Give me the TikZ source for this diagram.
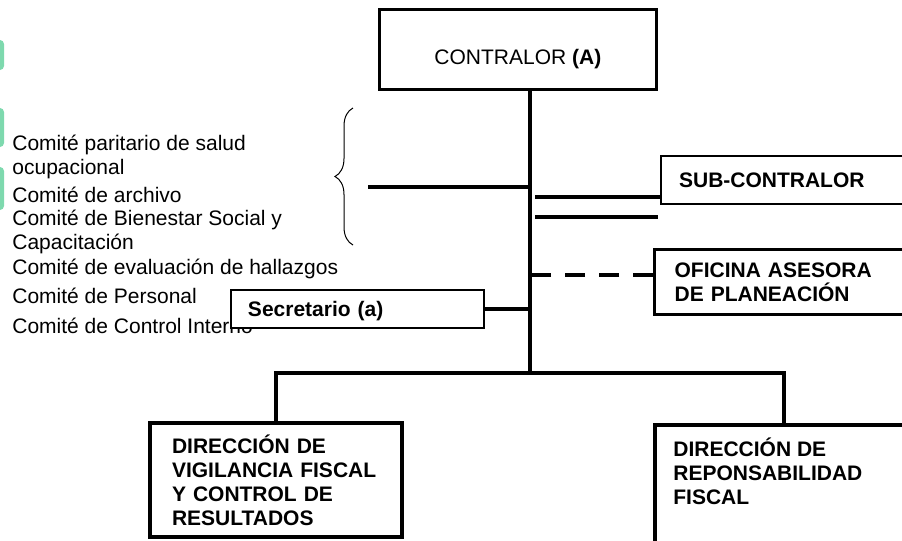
\documentclass[tikz,border=0pt]{standalone}
\usepackage{fontspec}
\setmainfont{Liberation Sans}
\usetikzlibrary{positioning,decorations.pathreplacing}

\definecolor{marca}{RGB}{126,217,174}

\begin{document}
\begin{tikzpicture}[
    x=0.5pt, y=-0.5pt,
    font=\fontsize{10.5}{12}\selectfont,
    orgbox/.style={draw, rectangle, fill=white, line width=1.2pt, anchor=north west, align=left, inner xsep=9pt, font=\fontsize{10.5}{12}\selectfont\bfseries},
    comite/.style={anchor=north west, align=left, inner sep=0pt},
    link/.style={line width=1.9pt},
    dashlink/.style={line width=1.9pt, dash pattern=on 10pt off 7pt},
    llave/.style={line width=0.5pt, decorate, decoration={brace, amplitude=9pt}}
]
\clip (0,0) rectangle (902,541);

% marcas verdes del borde
\fill[marca, rounded corners=2pt] (-6,40) rectangle (4,70);
\fill[marca, rounded corners=2pt] (-6,108) rectangle (4,147);
\fill[marca, rounded corners=2pt] (-6,167) rectangle (4,210);

% comites
\node[comite] (c-salud) at (12,135) {Comité paritario de salud\\ocupacional};
\node[comite] (c-archivo) at (12,187) {Comité de archivo};
\node[comite] (c-bienestar) at (12,210) {Comité de Bienestar Social y\\Capacitación};
\node[comite] (c-hallazgos) at (12,259) {Comité de evaluación de hallazgos};
\node[comite] (c-personal) at (12,288) {Comité de Personal};
\node[comite] (c-control) at (12,318) {Comité de Control Interno};

\coordinate (llave-abajo) at (353,245);
\coordinate (llave-arriba) at (353,108);
\draw[llave] (llave-abajo) -- (llave-arriba);

% cajas
\node[orgbox, line width=1.4pt, align=center, minimum width=138.5pt, minimum height=40pt,
      text height=17pt, text depth=2pt, font=\fontsize{10.5}{12}\selectfont] (contralor) at (378,8) {CONTRALOR \textbf{(A)}};
\node[orgbox, text width=140pt, minimum height=24pt, line width=1.1pt] (subc) at (660,155) {SUB-CONTRALOR};
\node[orgbox, text width=140pt, minimum height=32.5pt, inner xsep=10pt, line width=1.6pt] (oficina) at (653,248) {OFICINA ASESORA\\DE PLANEACIÓN};
\node[orgbox, text width=109.5pt, inner xsep=8.5pt, minimum height=19pt, text depth=0pt, line width=1pt] (secret) at (230,289) {Secretario (a)};
\node[orgbox, text width=104pt, inner xsep=11pt, minimum height=57pt, line width=2pt] (vig) at (148,421) {DIRECCIÓN DE\\VIGILANCIA FISCAL\\Y CONTROL DE\\RESULTADOS};
\node[orgbox, minimum width=160pt, minimum height=65pt, line width=2pt] (resp) at (653,423) {};
\node[below right=7pt and 10pt of resp.north west, align=left, inner sep=0pt, font=\fontsize{10.5}{12}\selectfont\bfseries] (resp-txt) {DIRECCIÓN DE\\REPONSABILIDAD\\FISCAL};

% lineas
\coordinate (trunk) at (530,373);
\coordinate (comites) at (368,187);
\coordinate (subc-in) at (535,197);
\coordinate (linea-a) at (535,217);
\coordinate (linea-b) at (658,217);
\coordinate (asesora) at (530,275);
\coordinate (bar-l) at (275,373);
\coordinate (bar-r) at (784,373);

\draw[link] (contralor.south -| trunk) -- (trunk);
\draw[link] (comites) -- (comites -| trunk);
\draw[link] (subc-in) -- (subc-in -| subc.west);
\draw[link] (linea-a) -- (linea-b);
\draw[dashlink] (asesora -| oficina.west) -- (asesora);
\draw[link] (secret.east) -- (secret.east -| trunk);
\draw[link] (vig.north) -- (vig.north |- bar-l) -- (bar-r) -- (bar-r |- resp.north);

\end{tikzpicture}
\end{document}
